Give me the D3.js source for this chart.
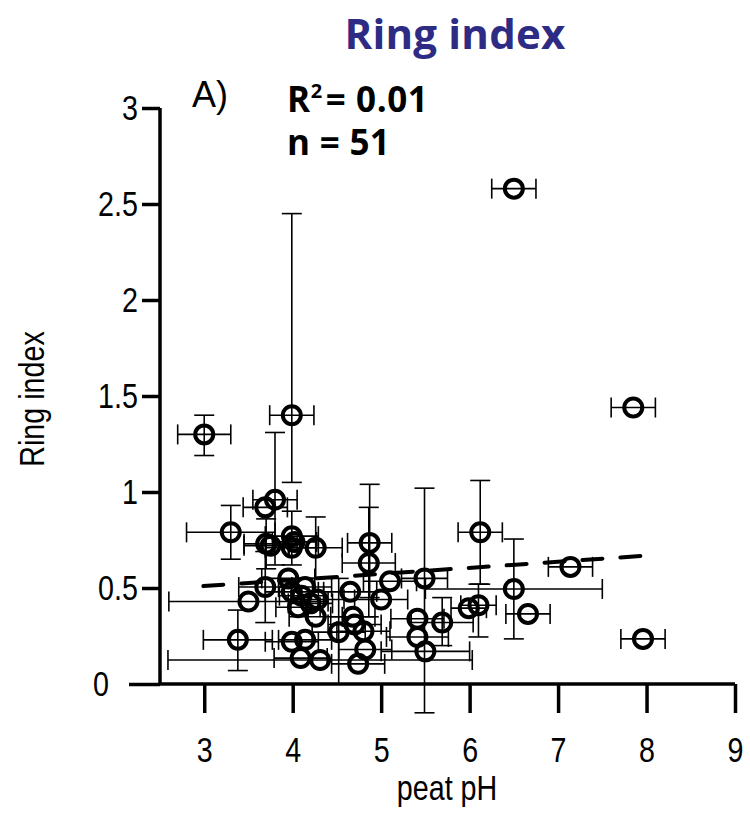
<!DOCTYPE html>
<html>
<head>
<meta charset="utf-8">
<script src="https://cdn.jsdelivr.net/npm/d3@7/dist/d3.min.js"></script>
<style>
  html, body { margin: 0; padding: 0; background: #fff; }
  svg { display: block; }
</style>
</head>
<body>
<svg id="chart" width="750" height="816"></svg>
<script>
// ---- data ----
const ph        = [6.50, 7.85, 7.96, 7.14, 3.00, 3.99, 3.80, 3.69, 3.30, 3.70, 3.75, 3.99, 3.99, 4.26, 4.87, 4.86, 5.10, 5.49, 6.12, 6.50, 6.66, 6.10, 5.99, 5.69, 5.41, 5.41, 5.50, 5.00, 4.65, 4.28, 4.26, 3.99, 3.95, 4.14, 4.06, 3.69, 3.50, 3.38, 3.99, 4.14, 4.09, 4.31, 4.52, 4.70, 4.80, 4.82, 4.74, 4.02, 4.10, 4.68, 4.20];
const ringIndex = [2.58, 1.44, 0.235, 0.61, 1.30, 1.40, 0.96, 0.92, 0.79, 0.73, 0.72, 0.77, 0.71, 0.71, 0.735, 0.63, 0.535, 0.55, 0.79, 0.495, 0.365, 0.41, 0.395, 0.32, 0.34, 0.245, 0.17, 0.44, 0.48, 0.44, 0.35, 0.48, 0.55, 0.505, 0.40, 0.505, 0.43, 0.23, 0.22, 0.23, 0.135, 0.125, 0.27, 0.31, 0.275, 0.18, 0.105, 0.74, 0.46, 0.35, 0.42];
const phErr     = [0.25, 0.25, 0.25, 0.25, 0.30, 0.25, 0.25, 0.25, 0.50, 0.25, 0.30, 0.30, 0.30, 0.30, 0.25, 0.30, 0.30, 0.26, 0.25, 1.00, 0.25, 0.20, 0.20, 0.35, 0.30, 0.35, 0.50, 0.30, 0.30, 0.30, 0.30, 0.30, 0.30, 0.30, 0.25, 0.30, 0.90, 0.39, 0.30, 0.30, 0.30, 1.72, 0.30, 0.30, 0.30, 0.30, 0.30, 0.25, 0.25, 0.25, 0.25];
const riLow     = [null, null, null, null, 1.19, 1.05, 0.62, null, 0.65, 0.60, null, 0.62, null, 0.55, 0.45, 0.35, null, -0.15, 0.52, 0.235, null, 0.245, null, 0.20, null, null, null, null, null, null, null, null, null, null, null, 0.32, null, 0.07, null, null, null, null, 0.00, null, null, null, null, null, null, null, null];
const riHigh    = [null, null, null, null, 1.40, 2.45, 1.31, null, 0.93, 0.86, null, 0.90, null, 0.87, 1.04, 0.92, null, 1.02, 1.06, 0.755, null, 0.52, null, 0.45, null, null, null, null, null, null, null, null, null, null, null, 0.69, null, 0.385, null, null, null, null, 0.55, null, null, null, null, null, null, null, null];

// regression line (fitted, as drawn)
const fitX = [2.99, 7.96];
const fitIntercept = 0.4155;
const fitSlope = 0.0316;

const xMajor = [3, 4, 5, 6, 7, 8, 9];
const xMinor = [2.5, 3.5, 4.5, 5.5, 6.5, 7.5, 8.5];
const yMajor = [0, 0.5, 1, 1.5, 2, 2.5, 3];
const yMinor = [0.25, 0.75, 1.25, 1.75, 2.25, 2.75];

const titleText = "Ring index";
const xLabel = "peat pH";
const yLabel = "Ring index";

// ---- drawing ----
const svg = d3.select("#chart");
const x = d3.scaleLinear().domain([2.5, 9]).range([160, 735]);
const y = d3.scaleLinear().domain([0, 3]).range([684, 108]);

const tickFont = "'Liberation Sans', Arial, sans-serif";
const boldFont = "'Open Sans', 'Noto Sans', sans-serif";
const narrow = 0.82;

// title
svg.append("text")
  .attr("x", 455).attr("y", 49)
  .attr("text-anchor", "middle")
  .attr("font-family", boldFont).attr("font-weight", 700)
  .attr("font-size", 42).attr("fill", "#2E2B85")
  .attr("letter-spacing", 0.2)
  .text(titleText);

// axes
const axisW = 3.5;
const gx = svg.append("g").attr("transform", `translate(0,${y(0)})`);
gx.call(d3.axisBottom(x).tickValues(xMinor).tickSize(19).tickFormat(""));
gx.call(d3.axisBottom(x).tickValues(xMajor).tickSize(29).tickPadding(24).tickFormat(d3.format("d")));
gx.selectAll("path.domain").attr("stroke-width", axisW).attr("d", `M${x(2.5)},0H${x(9)}`);
gx.selectAll("line").attr("stroke-width", axisW);
gx.selectAll("text").attr("font-family", tickFont).attr("font-size", 35).attr("fill", "#000")
  .attr("transform", `scale(${narrow},1)`);

const gy = svg.append("g").attr("transform", `translate(${x(2.5)},0)`);
gy.call(d3.axisLeft(y).tickValues(yMinor).tickSize(12).tickFormat(""));
gy.call(d3.axisLeft(y).tickValues(yMajor).tickSize(18).tickPadding(4).tickFormat(d => d3.format("")(d)));
gy.selectAll("path.domain").attr("stroke-width", axisW).attr("d", `M0,${y(3)}V${y(0)}`);
gy.selectAll("line").attr("stroke-width", axisW);
gy.selectAll(".tick").filter(d => d === 0).select("line").attr("x2", -31);
gy.selectAll("text").attr("font-family", tickFont).attr("font-size", 35).attr("fill", "#000")
  .attr("x", d => (d === 0 ? -51 : -22) / narrow)
  .attr("transform", `scale(${narrow},1)`);

// axis labels
svg.append("text")
  .attr("transform", `translate(447,800) scale(${narrow},1)`)
  .attr("text-anchor", "middle")
  .attr("font-family", tickFont).attr("font-size", 35)
  .text(xLabel);
svg.append("text")
  .attr("transform", `translate(44,399) rotate(-90) scale(${narrow},1)`)
  .attr("text-anchor", "middle")
  .attr("font-family", tickFont).attr("font-size", 35)
  .text(yLabel);

// annotations
svg.append("text")
  .attr("x", 192).attr("y", 107)
  .attr("font-family", tickFont).attr("font-size", 36)
  .text("A)");
const r2 = svg.append("text")
  .attr("x", 287).attr("y", 112)
  .attr("font-family", boldFont).attr("font-weight", 700)
  .attr("font-size", 35).attr("letter-spacing", 0.6);
r2.append("tspan").text("R");
r2.append("tspan").attr("font-size", 20).attr("dy", -14).text("2");
r2.append("tspan").attr("dy", 14).attr("dx", 3).text("= 0.01");
svg.append("text")
  .attr("x", 287).attr("y", 155)
  .attr("font-family", boldFont).attr("font-weight", 700)
  .attr("font-size", 35).attr("letter-spacing", 0.3)
  .text("n = 51");

// data points
const pts = ph.map((p, i) => ({p, r: ringIndex[i], e: phErr[i], lo: riLow[i], hi: riHigh[i]}));
const cap = 10;
const eb = svg.append("g").attr("stroke", "#000").attr("stroke-width", 1.6).attr("fill", "none");
pts.forEach(d => {
  const cx = x(d.p), cy = y(d.r);
  eb.append("line").attr("x1", x(d.p - d.e)).attr("x2", x(d.p + d.e)).attr("y1", cy).attr("y2", cy);
  eb.append("line").attr("x1", x(d.p - d.e)).attr("x2", x(d.p - d.e)).attr("y1", cy - cap).attr("y2", cy + cap);
  eb.append("line").attr("x1", x(d.p + d.e)).attr("x2", x(d.p + d.e)).attr("y1", cy - cap).attr("y2", cy + cap);
  if (d.lo !== null) {
    eb.append("line").attr("x1", cx).attr("x2", cx).attr("y1", y(d.lo)).attr("y2", y(d.hi));
    eb.append("line").attr("x1", cx - cap).attr("x2", cx + cap).attr("y1", y(d.lo)).attr("y2", y(d.lo));
    eb.append("line").attr("x1", cx - cap).attr("x2", cx + cap).attr("y1", y(d.hi)).attr("y2", y(d.hi));
  }
});

svg.append("g").selectAll("circle").data(pts).join("circle")
  .attr("cx", d => x(d.p)).attr("cy", d => y(d.r)).attr("r", 9)
  .attr("fill", "none").attr("stroke", "#000").attr("stroke-width", 4);

// dashed regression line
svg.append("line")
  .attr("x1", x(fitX[0])).attr("y1", y(fitIntercept + fitSlope * fitX[0]))
  .attr("x2", x(fitX[1])).attr("y2", y(fitIntercept + fitSlope * fitX[1]))
  .attr("stroke", "#000").attr("stroke-width", 4)
  .attr("stroke-dasharray", "20,18").attr("stroke-linecap", "round");
</script>
</body>
</html>
